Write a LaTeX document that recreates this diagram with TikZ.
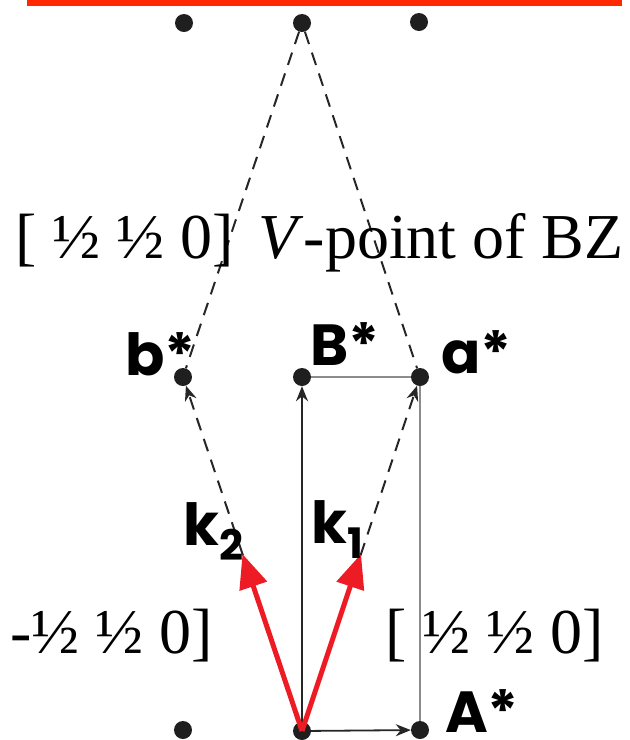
\documentclass[tikz,border=0pt]{standalone}
\usepackage{fontspec}
\setmainfont{Liberation Serif}
\newfontfamily\labfont{Poppins}
\usetikzlibrary{arrows.meta,calc}
\definecolor{redk}{RGB}{237,28,36}
\definecolor{topred}{RGB}{255,40,0}
\begin{document}
\begin{tikzpicture}[x=1pt,y=-1pt,
  dot/.style={circle,fill=black!88,inner sep=0pt,minimum size=18pt},
  lab/.style={inner sep=0pt,anchor=base west,font=\fontsize{58}{58}\selectfont\labfont\bfseries},
  txt/.style={inner sep=0pt,anchor=base west,font=\fontsize{64}{64}\selectfont},
  dsh/.style={line width=2pt,dash pattern=on 13pt off 9pt,black!85},
  blk/.style={line width=1.8pt,black!85},
  gry/.style={line width=1.4pt,black!45},
  tip/.style={-{Stealth[length=15pt,width=12pt]}},
  redarrow/.style={line width=5pt,redk,-{Triangle[length=34pt,width=28pt]}}]
\useasboundingbox (0,0) rectangle (630,740);
\draw[topred,line width=5.5pt] (27,2.75) -- (622,2.75);
\node[dot] (t1) at (184,23) {};
\node[dot] (t2) at (302,23) {};
\node[dot] (t3) at (419,22) {};
\node[dot] (bs) at (183,377) {};
\node[dot] (Bs) at (302,377) {};
\node[dot] (as) at (420,377) {};
\node[dot] (c0) at (183,730) {};
\node[dot] (O) at (302,731) {};
\node[dot] (As) at (420,730) {};
\draw[gry] (Bs) -- (as) -- (As);
\draw[dsh] (t2) -- (bs);
\draw[dsh] (t2) -- (as);
\draw[dsh,tip] (O) -- (bs);
\draw[dsh,tip] (O) -- (as);
\draw[blk,tip] (O) -- (Bs);
\draw[blk,tip] (O) -- (As);
\draw[redarrow] (O.center) -- ($(O.center)!0.5!(bs.center)$);
\draw[redarrow] (O.center) -- ($(O.center)!0.5!(as.center)$);
\node[lab] (lbs) at (125,375) {b*};
\node[lab] (lBs) at (310,365) {B*};
\node[lab] (las) at (441,373) {a*};
\node[lab] (lAs) at (445,732) {A*};
\node[lab] (lk2) at (183,545) {k\raisebox{-15pt}{\fontsize{42}{42}\selectfont 2}};
\node[lab] (lk1) at (311,543) {k\raisebox{-15pt}{\fontsize{42}{42}\selectfont 1}};
\node[txt] (ttop) at (15,258) {[ ½ ½ 0]};
\node[txt,anchor=base east] (vtxt) at (624,258) {\textit{V}-point of BZ};
\node[txt] (tleft) at (10,653) {-½ ½ 0]};
\node[txt] (tright) at (385,653) {[ ½ ½ 0]};
\end{tikzpicture}
\end{document}
